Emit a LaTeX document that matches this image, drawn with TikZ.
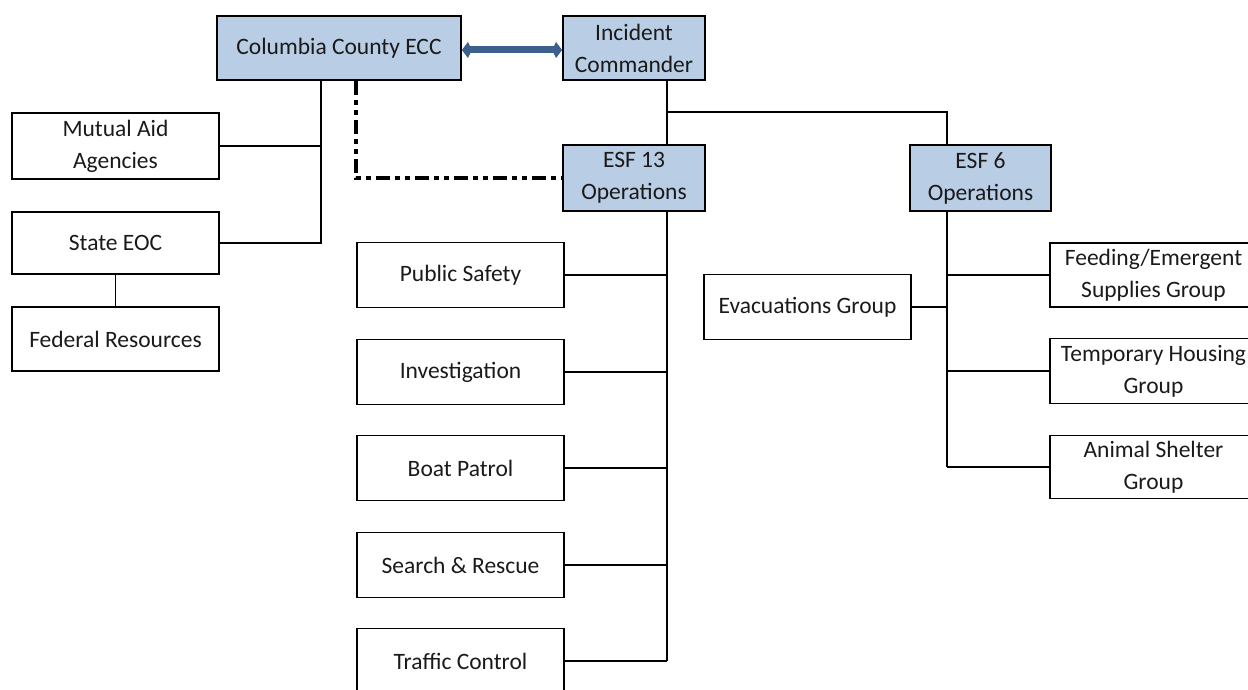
\documentclass[tikz,border=0pt]{standalone}
\usepackage{fontspec}
\setmainfont{Carlito}
\usetikzlibrary{arrows.meta}
\definecolor{boxblue}{HTML}{B9CDE5}
\definecolor{arrowblue}{HTML}{3C5F8D}
\definecolor{txt}{HTML}{1A1A1A}
\tikzset{
  box/.style={draw=black, line width=1.8pt, minimum width=207pt, minimum height=65pt,
    align=center, inner sep=0pt, text=txt, font=\fontsize{23.5}{32}\selectfont},
  bluebox/.style={box, fill=boxblue},
  conn/.style={line width=1.8pt, draw=black},
  dd/.style={line width=3.6pt, dash pattern=on 14pt off 5pt on 5pt off 5pt on 5pt off 5pt},
  link/.style={line width=7pt, draw=arrowblue, {Kite[length=10pt,width=16pt,inset=4pt]}-{Kite[length=10pt,width=16pt,inset=4pt]}}
}
\begin{document}
\begin{tikzpicture}[x=1pt,y=-1pt]
\useasboundingbox (0,0) rectangle (1248,690);
\clip (0,0) rectangle (1248,690);
% top row
\node[bluebox, minimum width=244pt, minimum height=64pt] (ecc) at (339,48) {\raisebox{4pt}{Columbia County ECC}};
\node[bluebox, minimum width=142pt, minimum height=64pt] (ic) at (634,48) {Incident\\Commander};
\node[bluebox, minimum width=142pt, minimum height=66pt] (esf13) at (634,178) {ESF 13\\Operations};
\node[bluebox, minimum width=141pt, minimum height=66pt] (esf6) at (980.5,178) {ESF 6\\Operations};
% left column
\node[box, minimum height=66pt] (mutual) at (115.5,146) {Mutual Aid\\Agencies};
\node[box, minimum height=62pt] (state) at (115.5,243) {State EOC};
\node[box, minimum height=64pt] (federal) at (115.5,339) {Federal Resources};
% ESF 13 column
\node[box] (public) at (460.5,275) {Public Safety};
\node[box] (invest) at (460.5,372) {Investigation};
\node[box] (boat) at (460.5,468) {Boat Patrol};
\node[box] (search) at (460.5,565) {Search \& Rescue};
\node[box] (traffic) at (460.5,661) {Traffic Control};
% ESF 6 column
\node[box] (evac) at (807.5,307) {Evacuations Group};
\node[box, minimum height=64pt] (feeding) at (1153.5,275) {Feeding/Emergent\\Supplies Group};
\node[box] (housing) at (1153.5,371) {Temporary Housing\\Group};
\node[box, minimum height=63pt] (animal) at (1153.5,467) {Animal Shelter\\Group};
% junction coordinates
\coordinate (ej) at (321,243);
\coordinate (b) at (667,112);
\coordinate (e6) at (947,112);
\coordinate (t13) at (667,661);
\coordinate (t6) at (947,467);
\coordinate (dj) at (356,178);
% ECC links
\draw[conn] (ecc.south -| ej) -- (ej) -- (state.east);
\draw[conn] (mutual.east) -- (mutual.east -| ej);
\draw[conn] (state.south) -- (federal.north);
\draw[dd] (ecc.south -| dj) -- (dj) -- (esf13.west);
\draw[link] ([yshift=-2pt]ecc.east) -- ([yshift=-2pt]ic.west);
% IC links
\draw[conn] (ic.south -| b) -- (esf13.north -| b);
\draw[conn] (b) -- (e6) -- (esf6.north -| e6);
% ESF 13 spine
\draw[conn] (esf13.south -| b) -- (t13);
\foreach \n in {public,invest,boat,search,traffic}
  \draw[conn] (\n.east) -- (\n.east -| b);
% ESF 6 spine
\draw[conn] (esf6.south -| e6) -- (t6);
\draw[conn] (evac.east) -- (evac.east -| e6);
\foreach \n in {feeding,housing,animal}
  \draw[conn] (\n.west) -- (\n.west -| e6);
\end{tikzpicture}
\end{document}
